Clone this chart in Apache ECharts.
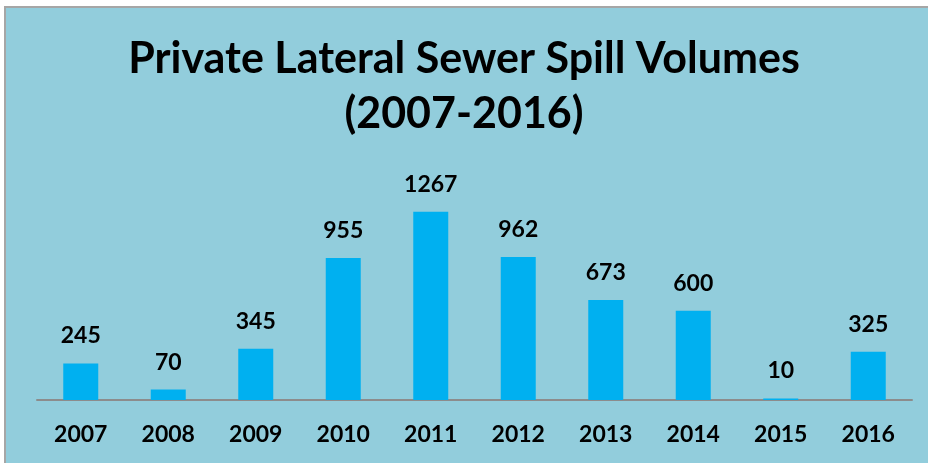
<!DOCTYPE html>
<html>
<head>
<meta charset="utf-8">
<script src="https://cdn.jsdelivr.net/npm/echarts@6/dist/echarts.min.js"></script>
<style>
  html, body { margin: 0; padding: 0; background: #ffffff; }
  #frame {
    position: absolute; left: 4px; top: 6px; width: 924px; height: 457px;
    border-top: 2px solid #a6a6a6; border-left: 2px solid #a6a6a6;
    background: #92cddc; box-sizing: border-box;
  }
  #chart { position: absolute; left: 0; top: 0; width: 928px; height: 463px; }
</style>
</head>
<body>
<div id="frame"></div>
<div id="chart"></div>
<script>
// Spill volumes per year
const years = ['2007', '2008', '2009', '2010', '2011', '2012', '2013', '2014', '2015', '2016'];
const volumes = [245, 70, 345, 955, 1267, 962, 673, 600, 10, 325];

const chart = echarts.init(document.getElementById('chart'), null, { renderer: 'canvas' });
const font = 'Lato';

chart.setOption({
  backgroundColor: 'transparent',
  title: {
    text: 'Private Lateral Sewer Spill Volumes\n(2007-2016)',
    left: 'center',
    top: 27,
    textStyle: {
      fontFamily: font, fontWeight: 'bold', fontSize: 43, lineHeight: 55, color: '#000000'
    }
  },
  grid: { left: 37, right: 16, top: 177, bottom: 63, containLabel: false },
  xAxis: {
    type: 'category',
    data: years,
    axisLine: { lineStyle: { color: '#8c8c8c', width: 2 } },
    axisTick: { length: 9, lineStyle: { color: '#8c8c8c', width: 2 } },
    axisLabel: {
      margin: 23, fontFamily: font, fontWeight: 'bold', fontSize: 23, color: '#000000'
    }
  },
  yAxis: {
    type: 'value', min: 0, max: 1500, show: false, splitLine: { show: false }
  },
  series: [{
    type: 'bar',
    data: volumes,
    barWidth: 35,
    itemStyle: { color: '#00b0f0' },
    label: {
      show: true, position: 'top', distance: 16,
      fontFamily: font, fontWeight: 'bold', fontSize: 23, color: '#000000'
    }
  }],
  animation: false
});
</script>
</body>
</html>
